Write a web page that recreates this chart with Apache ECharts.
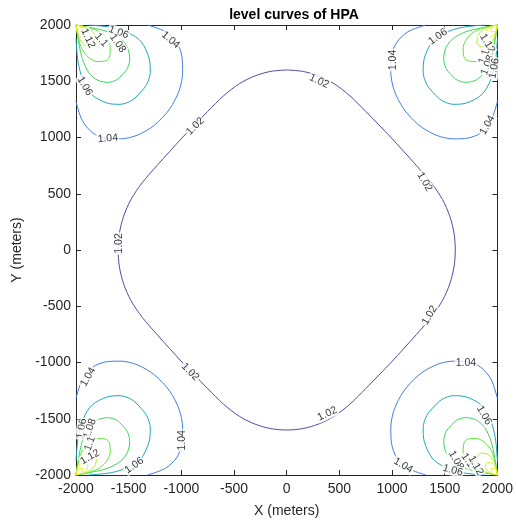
<!DOCTYPE html>
<html><head><meta charset="utf-8">
<script src="https://cdn.jsdelivr.net/npm/echarts@6/dist/echarts.min.js"></script>
<style>html,body{margin:0;padding:0;background:#fff}#c{width:516px;height:523px}</style>
</head><body><div id="c"></div>
<script>
// ---- data ----
const xTicks = [-2000,-1500,-1000,-500,0,500,1000,1500,2000];
const yTicks = [-2000,-1500,-1000,-500,0,500,1000,1500,2000];
const levels = ['1.02','1.04','1.06','1.08','1.1','1.12','1.14','1.16'];
// 1.02 contour, first quadrant (x,y), mirrored to the other quadrants
const curve102Quadrant = [[0,1600],[150,1588],[300,1548],[450,1478],[600,1370],[750,1232],[875,1112],[995,995],[1112,875],[1232,750],[1370,600],[1478,450],[1548,300],[1588,150],[1600,0]];
// corner contours, (u,v) = distance from the corner along x and along y
const corner104 = [[680,0],[850,60],[960,160],[1005,280],[1012,420],[980,580],[890,745],[745,890],[580,980],[420,1012],[280,1005],[160,960],[60,850],[0,680]];
const corner106 = [[0,120],[20,330],[70,500],[150,620],[300,695],[420,705],[530,670],[605,605],[670,530],[705,420],[695,300],[620,150],[500,70],[330,20],[120,0]];
const corner108 = [[0,0],[25,150],[60,300],[120,420],[200,488],[300,510],[385,488],[440,440],[488,385],[510,300],[488,200],[420,120],[300,60],[150,25],[0,0]];
const corner110 = [[0,0],[20,110],[55,210],[115,285],[200,325],[265,322],[305,305],[322,265],[325,200],[285,115],[210,55],[110,20],[0,0]];
const corner112 = [[0,0],[15,75],[45,140],[95,185],[150,195],[180,180],[195,150],[185,95],[140,45],[75,15],[0,0]];
const corner114 = [[0,0],[10,50],[35,92],[75,112],[105,105],[112,75],[92,35],[50,10],[0,0]];
const corner116 = [[0,0],[8,32],[28,58],[60,60],[58,28],[32,8],[0,0]];
// contour labels: x, y, text, angle
const labels102 = [[-868,1100,'1.02',45],[307,1500,'1.02',-25],[-1588,58,'1.02',90],[1309,606,'1.02',-60],[1356,-580,'1.02',60],[-915,-1084,'1.02',-45],[385,-1455,'1.02',25]];
const labelsCorners = [
 [-1102,1867,'1.04',-40],[-1698,992,'1.04',5],[-1595,1935,'1.06',-20],[-1917,1457,'1.06',-60],[-1604,1837,'1.08',-55],[-1761,1867,'1.1',-50],[-1886,1882,'1.12',-65],
 [1006,1689,'1.04',90],[1435,1896,'1.06',35],[1905,1837,'1.12',-60],[1873,1718,'1.1',70],[1905,1644,'1.08',70],[1968,1615,'1.06',80],[1905,1110,'1.04',60],
 [-1886,-1129,'1.04',60],[-1946,-1588,'1.06',80],[-1868,-1588,'1.08',70],[-1868,-1721,'1.1',70],[-1868,-1841,'1.12',30],[-993,-1692,'1.04',90],[-1447,-1915,'1.06',35],
 [1701,-1004,'1.04',0],[1873,-1470,'1.06',-60],[1106,-1915,'1.04',-30],[1607,-1870,'1.08',-60],[1717,-1870,'1.1',-55],[1795,-1915,'1.12',-60],[1576,-1959,'1.06',-15]
];
// ---- styles ----
const levelColors = {'1.02':'#5548a6','1.04':'#3f7fe6','1.06':'#1fa6b8','1.08':'#3cd45a','1.1':'#5fe43c','1.12':'#a8ec2c','1.14':'#d8f020','1.16':'#f4f000'};

function loop102(q){
  const out=[];
  q.forEach(p=>out.push([p[0],p[1]]));
  q.slice().reverse().forEach(p=>out.push([p[0],-p[1]]));
  q.forEach(p=>out.push([-p[0],-p[1]]));
  q.slice().reverse().forEach(p=>out.push([-p[0],p[1]]));
  return out;
}
const corners = [[-2000,2000,1,-1],[2000,2000,-1,-1],[-2000,-2000,1,1],[2000,-2000,-1,1]];
const cornerCurves = [['1.04',corner104],['1.06',corner106],['1.08',corner108],['1.1',corner110],['1.12',corner112],['1.14',corner114],['1.16',corner116]];

const series = [];
series.push({type:'line',data:loop102(curve102Quadrant),showSymbol:false,smooth:0.3,lineStyle:{color:levelColors['1.02'],width:1},silent:true,z:2});
cornerCurves.forEach(([lv,arr])=>{
  corners.forEach(([cx,cy,sx,sy])=>{
    series.push({type:'line',data:arr.map(p=>[cx+sx*p[0],cy+sy*p[1]]),showSymbol:false,smooth:0.3,lineStyle:{color:levelColors[lv],width:1},silent:true,z:2});
  });
});
const allLabels = labels102.concat(labelsCorners);
series.push({type:'scatter',symbolSize:0,silent:true,z:5,
  data:allLabels.map(l=>({value:[l[0],l[1]],name:l[2],label:{rotate:l[3]}})),
  label:{show:true,position:'inside',formatter:p=>p.name,color:'#000',fontSize:10.5,fontFamily:'Liberation Sans, Arial, sans-serif',backgroundColor:'#fff',padding:[0,1]}
});

const axisCommon = {type:'value',min:-2000,max:2000,interval:500,
  axisLine:{show:true,onZero:false,lineStyle:{color:'#262626',width:1}},
  axisTick:{show:true,inside:true,length:5,lineStyle:{color:'#262626'}},
  splitLine:{show:false}};
const chart = echarts.init(document.getElementById('c'),null,{renderer:'canvas'});
chart.setOption({
  animation:false,
  backgroundColor:'#fff',
  title:{text:'level curves of HPA',left:289,top:3,textAlign:'center',textStyle:{fontSize:14,fontWeight:'bold',color:'#000',fontFamily:'Liberation Sans, Arial, sans-serif'}},
  grid:{left:76,right:14,top:25,bottom:48},
  xAxis:[
    Object.assign({},axisCommon,{position:'bottom',name:'X (meters)',nameLocation:'middle',nameGap:29,
      nameTextStyle:{fontSize:14,color:'#262626',fontFamily:'Liberation Sans, Arial, sans-serif'},
      axisLabel:{fontSize:14,color:'#262626',margin:7,fontFamily:'Liberation Sans, Arial, sans-serif',formatter:v=>xTicks.includes(v)?String(v):''}}),
    Object.assign({},axisCommon,{position:'top',axisLabel:{show:false}})
  ],
  yAxis:[
    Object.assign({},axisCommon,{position:'left',name:'Y (meters)',nameLocation:'middle',nameGap:50,
      nameTextStyle:{fontSize:14,color:'#262626',fontFamily:'Liberation Sans, Arial, sans-serif'},
      axisLabel:{fontSize:14,color:'#262626',margin:5,fontFamily:'Liberation Sans, Arial, sans-serif',formatter:v=>yTicks.includes(v)?String(v):''}}),
    Object.assign({},axisCommon,{position:'right',axisLabel:{show:false}})
  ],
  series:series
});
</script></body></html>
